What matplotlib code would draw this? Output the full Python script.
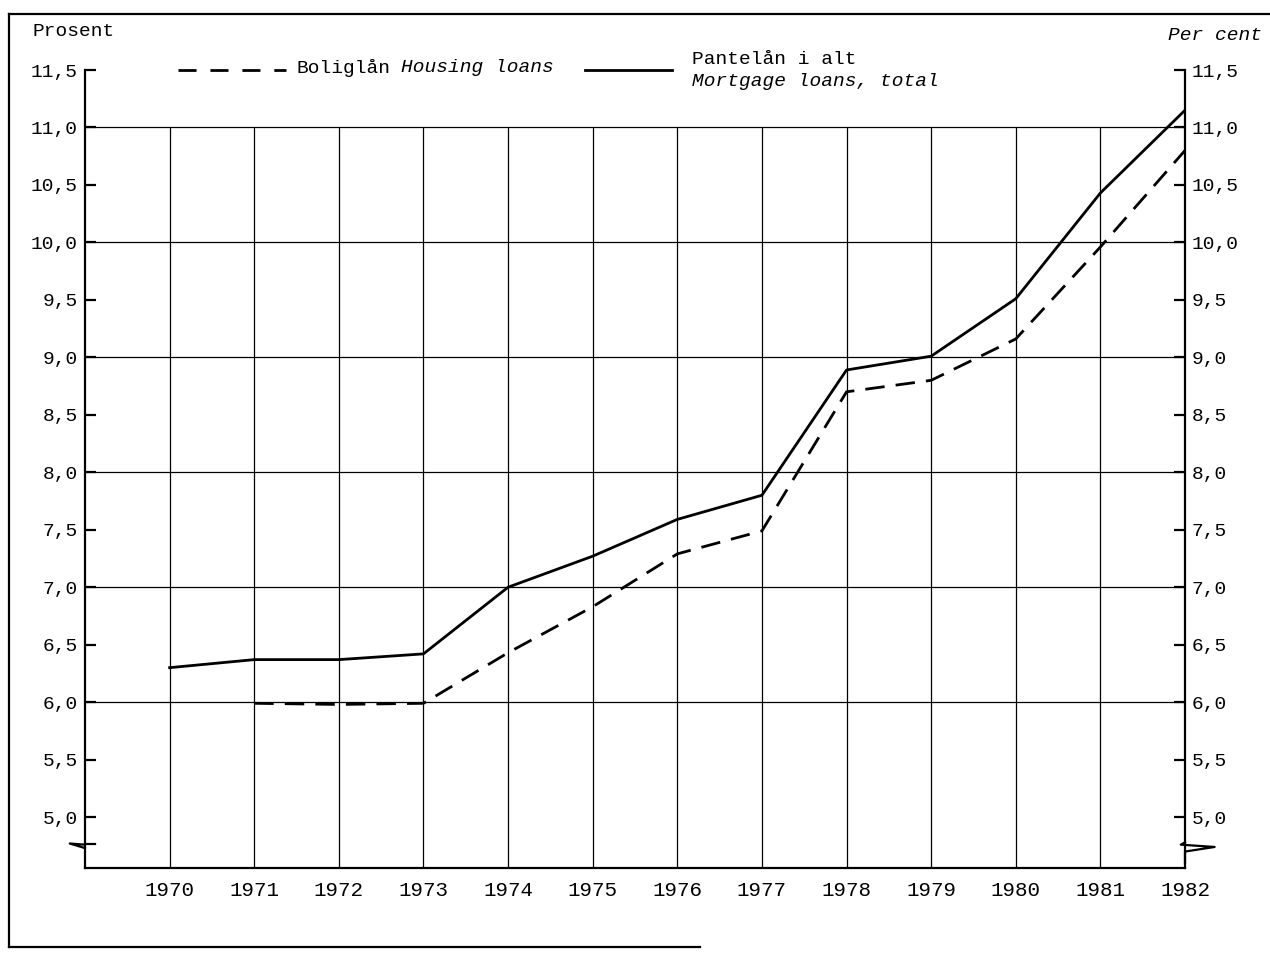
import numpy as np
import matplotlib
matplotlib.use('Agg')
import matplotlib.pyplot as plt
from matplotlib.lines import Line2D

# Data (per cent)
years = [1970, 1971, 1972, 1973, 1974, 1975, 1976, 1977, 1978, 1979, 1980, 1981, 1982]
mortgage_total = [6.30, 6.37, 6.37, 6.42, 7.00, 7.27, 7.59, 7.80, 8.89, 9.01, 9.51, 10.43, 11.15]
housing_years = [1971, 1972, 1973, 1974, 1975, 1976, 1977, 1978, 1979, 1980, 1981, 1982]
housing_loans = [5.99, 5.98, 5.99, 6.43, 6.83, 7.29, 7.49, 8.70, 8.80, 9.16, 9.96, 10.80]

ytick_vals = [5.0, 5.5, 6.0, 6.5, 7.0, 7.5, 8.0, 8.5, 9.0, 9.5, 10.0, 10.5, 11.0, 11.5]
ytick_labels = ['5,0', '5,5', '6,0', '6,5', '7,0', '7,5', '8,0', '8,5', '9,0', '9,5',
                '10,0', '10,5', '11,0', '11,5']
grid_y = [6, 7, 8, 9, 10, 11]

FONT = 'Liberation Mono'
FS = 14
W, H = 1270, 958

def fx(px):
    return px / W

def fy(py):
    return 1 - py / H

fig = plt.figure(figsize=(12.7, 9.58), dpi=100)
ax = fig.add_axes([fx(85), fy(868), fx(1185) - fx(85), fy(70) - fy(868)])
ax.set_xlim(1969, 1982)
ax.set_ylim(4.557, 11.5)

# grid: horizontal lines at whole per cent, vertical lines at each year
ax.hlines(grid_y, 1969, 1982, colors='black', linewidth=0.9, zorder=1)
ax.vlines(years[:-1], 4.557, 11.0, colors='black', linewidth=0.9, zorder=1)

ax.plot(years, mortgage_total, color='black', linewidth=2.0, zorder=3)
ax.plot(housing_years, housing_loans, color='black', linewidth=2.0,
        dashes=(7, 4), zorder=3)

for s in ['left', 'right', 'bottom']:
    ax.spines[s].set_linewidth(1.6)
ax.spines['top'].set_visible(False)

ax.set_yticks(ytick_vals)
ax.set_yticklabels(ytick_labels, fontfamily=FONT, fontsize=FS)
ax.tick_params(axis='y', direction='in', length=8, width=1.6, left=True, right=True,
               labelleft=True, labelright=True, pad=5)
ax.set_xticks(years)
ax.set_xticklabels([str(y) for y in years], fontfamily=FONT, fontsize=15)
ax.tick_params(axis='x', length=0, pad=9)

# axis break marks
ax.plot([1969, 1968.82, 1969.0], [4.76, 4.77, 4.73],
        color='black', linewidth=1.6, clip_on=False, zorder=4)
ax.plot([1969, 1969.12], [4.77, 4.77], color='black', linewidth=1.6, clip_on=False, zorder=4)
ax.plot([1982, 1981.95, 1982.35, 1982, 1982], [4.78, 4.76, 4.74, 4.70, 4.60],
        color='black', linewidth=1.6, clip_on=False, zorder=4)

# headings
fig.text(fx(33), fy(32), 'Prosent', fontfamily=FONT, fontsize=FS, va='center', ha='left')
fig.text(fx(1262), fy(35), 'Per cent', fontfamily=FONT, fontsize=FS, style='italic',
         va='center', ha='right')

# legend
fig.add_artist(Line2D([fx(178), fx(286)], [fy(70), fy(70)], color='black',
                      linewidth=2.0, dashes=(6.5, 5)))
fig.text(fx(297), fy(68), 'Boliglån', fontfamily=FONT, fontsize=FS, va='center', ha='left')
fig.text(fx(401), fy(68), 'Housing loans', fontfamily=FONT, fontsize=FS, style='italic',
         va='center', ha='left')
fig.add_artist(Line2D([fx(585), fx(672)], [fy(70), fy(70)], color='black', linewidth=2.0))
fig.text(fx(692), fy(60), 'Pantelån i alt', fontfamily=FONT, fontsize=FS, va='center', ha='left')
fig.text(fx(692), fy(81), 'Mortgage loans, total', fontfamily=FONT, fontsize=FS,
         style='italic', va='center', ha='left')

# outer frame (top, left, part of bottom)
fig.add_artist(Line2D([fx(9), fx(1270)], [fy(14), fy(14)], color='black', linewidth=1.6))
fig.add_artist(Line2D([fx(9), fx(9)], [fy(14), fy(947)], color='black', linewidth=1.6))
fig.add_artist(Line2D([fx(9), fx(700)], [fy(947), fy(947)], color='black', linewidth=1.6))

fig.savefig('out.png', dpi=100)
